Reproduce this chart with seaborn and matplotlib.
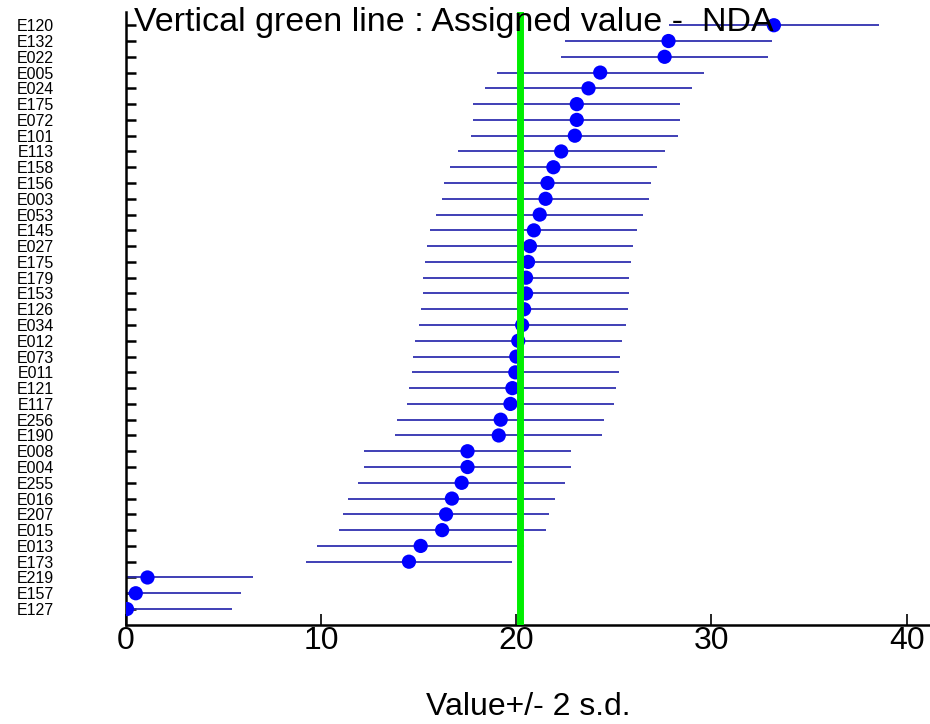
import matplotlib
matplotlib.use("Agg")
import matplotlib.pyplot as plt
import seaborn as sns
import pandas as pd
import numpy as np

# lab codes, top to bottom
labs = ["E120", "E132", "E022", "E005", "E024", "E175", "E072", "E101",
        "E113", "E158", "E156", "E003", "E053", "E145", "E027", "E175",
        "E179", "E153", "E126", "E034", "E012", "E073", "E011", "E121",
        "E117", "E256", "E190", "E008", "E004", "E255", "E016", "E207",
        "E015", "E013", "E173", "E219", "E157", "E127"]
values = [33.2, 27.8, 27.6, 24.3, 23.7, 23.1, 23.1, 23.0,
          22.3, 21.9, 21.6, 21.5, 21.2, 20.9, 20.7, 20.6,
          20.5, 20.5, 20.4, 20.3, 20.1, 20.0, 19.95, 19.8,
          19.7, 19.2, 19.1, 17.5, 17.5, 17.2, 16.7, 16.4,
          16.2, 15.1, 14.5, 1.1, 0.5, 0.05]
sd = [2.7, 2.65, 2.65, 2.65, 2.65, 2.65, 2.65, 2.65,
      2.65, 2.65, 2.65, 2.65, 2.65, 2.65, 2.65, 2.65,
      2.65, 2.65, 2.65, 2.65, 2.65, 2.65, 2.65, 2.65,
      2.65, 2.65, 2.65, 2.65, 2.65, 2.65, 2.65, 2.65,
      2.65, 2.65, 2.65, 2.7, 2.7, 2.7]
assigned = 20.2

df = pd.DataFrame({"lab": labs, "value": values, "sd": sd})
df["pos"] = np.arange(len(df))
df["lo"] = df["value"] - 2 * df["sd"]
df["hi"] = df["value"] + 2 * df["sd"]

sns.set_style("white")
plt.rcParams["font.family"] = ["Liberation Sans", "DejaVu Sans"]
plt.rcParams["text.color"] = "black"
plt.rcParams["xtick.color"] = "black"
plt.rcParams["ytick.color"] = "black"
plt.rcParams["axes.labelcolor"] = "black"

fig = plt.figure(figsize=(9.3, 7.24), dpi=100)
ax = fig.add_axes([0.1355, 0.137, 0.8645, 0.846])

# +/- 2 s.d. bars, then the lab values on top
ax.hlines(df["pos"], df["lo"], df["hi"], color="#3030b0", linewidth=1.3, zorder=2)
sns.scatterplot(data=df, x="value", y="pos", ax=ax, color="#0000ff", marker="o",
                s=105, edgecolor="none", zorder=3, legend=False)
ax.axvline(assigned, color="#00ee00", linewidth=5, zorder=4)

ax.set_xlim(0, 41.2)
ax.set_ylim(len(df) - 1 + 1.0, -0.82)
ax.set_xticks([0, 10, 20, 30, 40])
ax.set_xticklabels(["0", "10", "20", "30", "40"], fontsize=23)
ax.set_yticks(df["pos"])
ax.set_yticklabels(df["lab"], fontsize=11.5)
ax.tick_params(axis="y", left=True, direction="in", length=7, width=1.8, pad=52)
ax.tick_params(axis="x", bottom=True, direction="in", length=8, width=1.2, pad=1)
for lab in ax.get_yticklabels():
    lab.set_ha("right")

ax.set_xlabel("Value+/- 2 s.d.", fontsize=23, labelpad=26)
ax.set_ylabel("")

for side in ["top", "right"]:
    ax.spines[side].set_visible(False)
for side in ["left", "bottom"]:
    ax.spines[side].set_color("black")
    ax.spines[side].set_linewidth(1.8)

ax.text(0.4, -0.15, "Vertical green line : Assigned value -  NDA", fontsize=24.5,
        ha="left", va="center", color="black", zorder=5)

fig.savefig("out.png", dpi=100)
